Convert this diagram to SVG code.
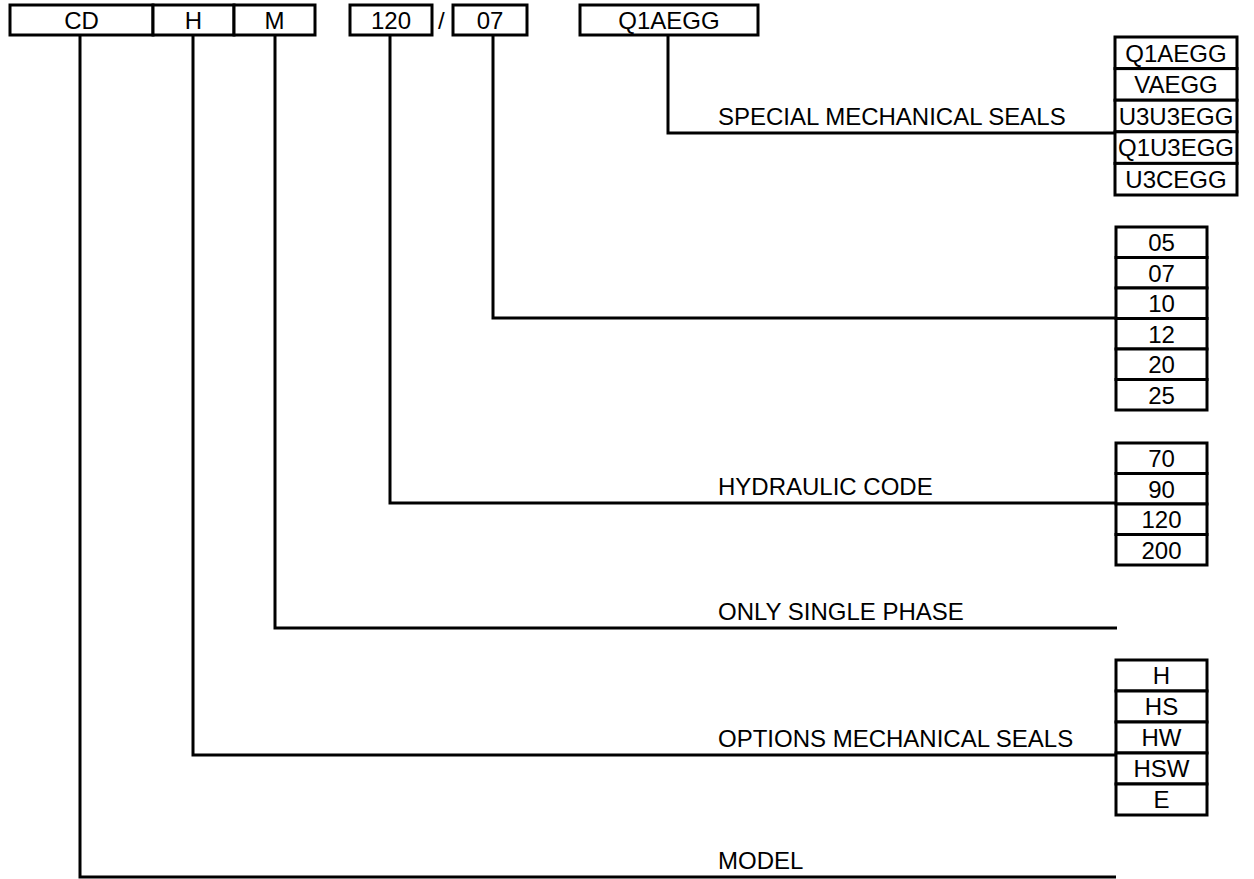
<svg xmlns="http://www.w3.org/2000/svg" width="1254" height="879" viewBox="0 0 1254 879">
<style>
rect{fill:#fff;stroke:#000;stroke-width:3}
.c{fill:none;stroke:#000;stroke-width:3}
text{font-family:"Liberation Sans",Arial,sans-serif;font-size:24px;fill:#000}
.m{text-anchor:middle}
</style>
<rect x="0" y="0" width="1254" height="879" style="stroke:none"/>
<g id="connectors">
<polyline class="c" points="668,35 668,133 1116,133"/>
<polyline class="c" points="493,35 493,318 1116,318"/>
<polyline class="c" points="390,35 390,503 1116,503"/>
<polyline class="c" points="275,35 275,628 1117,628"/>
<polyline class="c" points="193,35 193,755 1116,755"/>
<polyline class="c" points="80,35 80,877 1116,877"/>
</g>
<g id="code">
<g id="cd"><rect x="10" y="5" width="143" height="30"/><text class="m" x="81.5" y="28.5">CD</text></g>
<g id="h"><rect x="153" y="5" width="81" height="30"/><text class="m" x="193.5" y="28.5">H</text></g>
<g id="m"><rect x="234" y="5" width="81" height="30"/><text class="m" x="274.5" y="28.5">M</text></g>
<g id="c120"><rect x="350" y="5" width="82" height="30"/><text class="m" x="391" y="28.5">120</text></g>
<text x="438" y="28.5">/</text>
<g id="c07"><rect x="453" y="5" width="74" height="30"/><text class="m" x="490" y="28.5">07</text></g>
<g id="seal"><rect x="580" y="5" width="178" height="30"/><text class="m" x="669" y="28.5">Q1AEGG</text></g>
</g>
<g id="labels">
<text x="718" y="125">SPECIAL MECHANICAL SEALS</text>
<text x="718" y="495">HYDRAULIC CODE</text>
<text x="718" y="620">ONLY SINGLE PHASE</text>
<text x="718" y="747">OPTIONS MECHANICAL SEALS</text>
<text x="718" y="869">MODEL</text>
</g>
<g id="seals-list">
<rect x="1115" y="37" width="122" height="31.6"/><text class="m" x="1176" y="61.5">Q1AEGG</text>
<rect x="1115" y="68.6" width="122" height="31.6"/><text class="m" x="1176" y="93">VAEGG</text>
<rect x="1115" y="100.2" width="122" height="31.6"/><text class="m" x="1176" y="124.6">U3U3EGG</text>
<rect x="1115" y="131.8" width="122" height="31.6"/><text class="m" x="1176" y="156.2">Q1U3EGG</text>
<rect x="1115" y="163.4" width="122" height="31.6"/><text class="m" x="1176" y="187.8">U3CEGG</text>
</g>
<g id="size-list">
<rect x="1116" y="227" width="91" height="30.5"/><text class="m" x="1161.5" y="251">05</text>
<rect x="1116" y="257.5" width="91" height="30.5"/><text class="m" x="1161.5" y="281.5">07</text>
<rect x="1116" y="288" width="91" height="30.5"/><text class="m" x="1161.5" y="312">10</text>
<rect x="1116" y="318.5" width="91" height="30.5"/><text class="m" x="1161.5" y="342.5">12</text>
<rect x="1116" y="349" width="91" height="30.5"/><text class="m" x="1161.5" y="373">20</text>
<rect x="1116" y="379.5" width="91" height="30.5"/><text class="m" x="1161.5" y="403.5">25</text>
</g>
<g id="hydraulic-list">
<rect x="1116" y="443" width="91" height="30.5"/><text class="m" x="1161.5" y="467">70</text>
<rect x="1116" y="473.5" width="91" height="30.5"/><text class="m" x="1161.5" y="497.5">90</text>
<rect x="1116" y="504" width="91" height="30.5"/><text class="m" x="1161.5" y="528">120</text>
<rect x="1116" y="534.5" width="91" height="30.5"/><text class="m" x="1161.5" y="558.5">200</text>
</g>
<g id="options-list">
<rect x="1116" y="660" width="91" height="31"/><text class="m" x="1161.5" y="684">H</text>
<rect x="1116" y="691" width="91" height="31"/><text class="m" x="1161.5" y="715">HS</text>
<rect x="1116" y="722" width="91" height="31"/><text class="m" x="1161.5" y="746">HW</text>
<rect x="1116" y="753" width="91" height="31"/><text class="m" x="1161.5" y="777">HSW</text>
<rect x="1116" y="784" width="91" height="31"/><text class="m" x="1161.5" y="808">E</text>
</g>
</svg>
